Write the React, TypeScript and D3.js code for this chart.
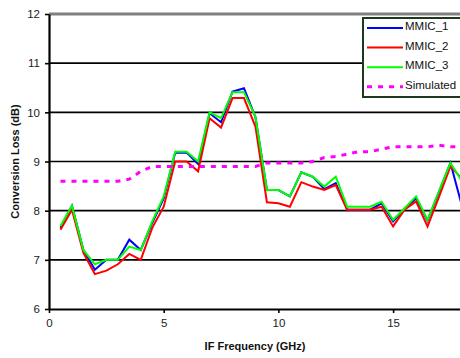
import { useEffect, useRef } from "react";
import * as d3 from "d3";

// IF frequency (GHz)
const freqs = [
  0.5, 1, 1.5, 2, 2.5, 3, 3.5, 4, 4.5, 5, 5.5, 6, 6.5, 7, 7.5, 8, 8.5, 9,
  9.5, 10, 10.5, 11, 11.5, 12, 12.5, 13, 13.5, 14, 14.5, 15, 15.5, 16, 16.5,
  17, 17.5, 18,
];

const mmic1 = [
  7.65, 8.1, 7.2, 6.8, 7.0, 7.0, 7.41, 7.2, 7.75, 8.25, 9.18, 9.18, 8.95,
  9.98, 9.8, 10.42, 10.49, 9.9, 8.42, 8.42, 8.29, 8.78, 8.69, 8.44, 8.56,
  8.02, 8.02, 8.02, 8.15, 7.78, 8.03, 8.25, 7.8, 8.38, 8.97, 8.1,
];

const mmic2 = [
  7.61, 8.02, 7.14, 6.71, 6.78, 6.91, 7.12, 7.0, 7.65, 8.08, 9.0, 9.0, 8.8,
  9.88, 9.69, 10.29, 10.29, 9.71, 8.17, 8.15, 8.08, 8.58, 8.49, 8.42, 8.52,
  8.02, 8.02, 8.02, 8.08, 7.68, 8.02, 8.19, 7.68, 8.28, 8.9, 8.65,
];

const mmic3 = [
  7.69, 8.1, 7.2, 6.91, 7.0, 7.0, 7.27, 7.2, 7.78, 8.29, 9.2, 9.2, 9.0,
  10.0, 9.88, 10.41, 10.41, 9.91, 8.42, 8.42, 8.29, 8.78, 8.69, 8.49, 8.69,
  8.08, 8.08, 8.08, 8.18, 7.81, 8.05, 8.29, 7.81, 8.4, 8.97, 8.6,
];

const simulated = [
  8.6, 8.6, 8.6, 8.6, 8.6, 8.6, 8.64, 8.8, 8.9, 8.9, 8.9, 8.9, 8.9, 8.9,
  8.9, 8.9, 8.9, 8.9, 8.97, 8.97, 8.97, 8.97, 9.0, 9.08, 9.1, 9.15, 9.2,
  9.2, 9.25, 9.3, 9.3, 9.3, 9.3, 9.33, 9.3, 9.3,
];

const yTicks = [6, 7, 8, 9, 10, 11, 12];
const xTicks = [0, 5, 10, 15];

const series = [
  { name: "MMIC_1", values: mmic1, color: "#0000ff", dash: null },
  { name: "MMIC_2", values: mmic2, color: "#ff0000", dash: null },
  { name: "MMIC_3", values: mmic3, color: "#00ff00", dash: null },
  { name: "Simulated", values: simulated, color: "#ff00ff", dash: "5,6" },
];

const FONT = "'Liberation Sans', Arial, sans-serif";

export default function App() {
  const svgRef = useRef<SVGSVGElement>(null);

  useEffect(() => {
    if (!svgRef.current) return;
    const svg = d3.select(svgRef.current);
    svg.selectAll("*").remove();

    const left = 49;
    const top = 14;
    const bottom = 309;

    // the plot runs past the right edge of the picture
    const xScale = d3.scaleLinear().domain([0, 20]).range([left, left + 20 * 22.94]);
    const yScale = d3.scaleLinear().domain([6, 12]).range([bottom, top]);

    svg.append("rect").attr("width", 460).attr("height", 358).attr("fill", "#fff");

    // Gridlines
    svg
      .selectAll(".grid")
      .data(yTicks.filter((t) => t > 6 && t < 12))
      .enter()
      .append("line")
      .attr("x1", left)
      .attr("x2", 470)
      .attr("y1", (d) => yScale(d))
      .attr("y2", (d) => yScale(d))
      .attr("stroke", "#000")
      .attr("stroke-width", 1.6);

    // top border of plot area
    svg
      .append("line")
      .attr("x1", left)
      .attr("x2", 470)
      .attr("y1", yScale(12))
      .attr("y2", yScale(12))
      .attr("stroke", "#808080")
      .attr("stroke-width", 3);

    // Y axis
    svg
      .append("g")
      .attr("transform", `translate(${left},0)`)
      .call(
        d3
          .axisLeft(yScale)
          .tickValues(yTicks)
          .tickFormat(d3.format("d"))
          .tickSize(4)
          .tickSizeOuter(0)
      )
      .call((g) => g.select(".domain").attr("stroke-width", 2.2))
      .call((g) => g.selectAll(".tick line").attr("stroke-width", 1.6))
      .selectAll("text")
      .attr("x", -9)
      .style("fill", "#222")
      .style("font-family", FONT)
      .style("font-size", "11.5px");

    // X axis
    svg
      .append("g")
      .attr("transform", `translate(0,${bottom})`)
      .call(
        d3
          .axisBottom(xScale)
          .tickValues(xTicks)
          .tickFormat(d3.format("d"))
          .tickSize(4)
          .tickSizeOuter(0)
      )
      .call((g) => g.select(".domain").attr("stroke-width", 2.2))
      .call((g) => g.selectAll(".tick line").attr("stroke-width", 1.6))
      .selectAll("text")
      .attr("y", 10)
      .style("fill", "#222")
      .style("font-family", FONT)
      .style("font-size", "11.5px");

    // Lines
    const line = d3
      .line<number>()
      .x((_, i) => xScale(freqs[i]))
      .y((d) => yScale(d));

    series.forEach((s) => {
      const path = svg
        .append("path")
        .datum(s.values)
        .attr("d", line)
        .attr("fill", "none")
        .attr("stroke", s.color)
        .attr("stroke-width", s.dash ? 3 : 2)
        .attr("stroke-linejoin", "miter");
      if (s.dash) path.attr("stroke-dasharray", s.dash);
    });

    // Legend
    const lg = svg.append("g").attr("transform", "translate(363,18)");
    lg.append("rect")
      .attr("width", 110)
      .attr("height", 79)
      .attr("fill", "#fff")
      .attr("stroke", "#1e381e")
      .attr("stroke-width", 2);
    series.forEach((s, i) => {
      const yy = 10 + i * 19.6;
      const l = lg
        .append("line")
        .attr("x1", 4)
        .attr("x2", 40)
        .attr("y1", yy)
        .attr("y2", yy)
        .attr("stroke", s.color)
        .attr("stroke-width", s.dash ? 3 : 2);
      if (s.dash) l.attr("stroke-dasharray", s.dash);
      lg.append("text")
        .attr("x", 42)
        .attr("y", yy + 2)
        .style("font-family", FONT)
        .style("font-size", "11.5px")
        .style("fill", "#111")
        .text(s.name);
    });

    // Axis labels
    svg
      .append("text")
      .attr("transform", `translate(19,${(top + bottom) / 2}) rotate(-90)`)
      .style("text-anchor", "middle")
      .style("font-family", FONT)
      .style("font-weight", "bold")
      .style("font-size", "11px")
      .style("fill", "#111")
      .text("Conversion Loss (dB)");

    svg
      .append("text")
      .attr("x", 255)
      .attr("y", 350)
      .style("text-anchor", "middle")
      .style("font-family", FONT)
      .style("font-weight", "bold")
      .style("font-size", "11px")
      .style("fill", "#111")
      .text("IF Frequency (GHz)");
  }, []);

  return (
    <svg
      ref={svgRef}
      width="460"
      height="358"
      style={{ position: "absolute", left: 0, top: 0 }}
    />
  );
}
